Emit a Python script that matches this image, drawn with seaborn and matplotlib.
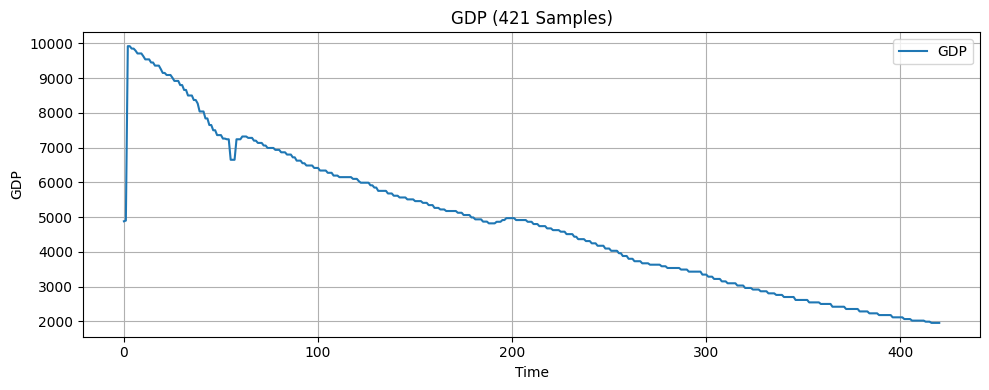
import numpy as np
import pandas as pd
import matplotlib
matplotlib.use("Agg")
import matplotlib.pyplot as plt
import seaborn as sns

# Step segments: index where each level starts, and its value
seg_start = [0, 1, 2, 4, 6, 7, 10, 11, 14, 16, 19, 20, 22, 25, 26, 29, 31, 33, 36, 38,
             39, 42, 44, 46, 48, 51, 53, 55, 58, 61, 64, 67, 69, 72, 74, 78, 81, 84, 87, 89,
             92, 94, 98, 101, 105, 108, 111, 118, 121, 122, 127, 129, 131, 136, 139, 142, 146, 150, 154, 157,
             160, 163, 166, 172, 175, 179, 181, 185, 188, 192, 195, 197, 202, 208, 211, 214, 218, 221, 225, 228,
             232, 234, 238, 241, 244, 248, 251, 255, 257, 260, 263, 267, 271, 277, 280, 287, 291, 298, 301, 304,
             308, 311, 316, 320, 324, 328, 332, 336, 340, 346, 353, 359, 365, 372, 379, 384, 389, 396, 402, 406,
             413, 416]
seg_value = [4880, 4900, 9920, 9850, 9790, 9710, 9630, 9540, 9450, 9360, 9260, 9150, 9090, 9010, 8920, 8800, 8660, 8500, 8370, 8270,
             8040, 7840, 7650, 7500, 7360, 7260, 7240, 6650, 7240, 7320, 7280, 7200, 7135, 7060, 6990, 6935, 6865, 6800, 6720, 6625,
             6550, 6485, 6415, 6340, 6275, 6195, 6150, 6100, 6035, 5990, 5915, 5850, 5755, 5680, 5615, 5565, 5510, 5460, 5410, 5345,
             5265, 5220, 5175, 5125, 5060, 4990, 4935, 4870, 4820, 4865, 4915, 4970, 4915, 4865, 4800, 4740, 4675, 4625, 4580, 4510,
             4435, 4365, 4310, 4245, 4175, 4095, 4030, 3960, 3880, 3800, 3730, 3670, 3630, 3585, 3535, 3490, 3430, 3345, 3285, 3220,
             3150, 3095, 3030, 2960, 2915, 2865, 2805, 2760, 2700, 2615, 2545, 2500, 2420, 2355, 2285, 2230, 2180, 2115, 2065, 2020,
             1990, 1955]
n_samples = 421

counts = np.diff(seg_start + [n_samples])
gdp = np.repeat(seg_value, counts)
df = pd.DataFrame({"Time": np.arange(n_samples), "GDP": gdp})

fig, ax = plt.subplots(figsize=(10, 4), dpi=100)
sns.lineplot(data=df, x="Time", y="GDP", ax=ax, label="GDP", color="#1f77b4", linewidth=1.5)
ax.set_title("GDP (421 Samples)")
ax.set_xlabel("Time")
ax.set_ylabel("GDP")
ax.grid(True)
ax.legend(loc="upper right")
fig.tight_layout()
fig.savefig("out.png", dpi=100, bbox_inches="tight")
